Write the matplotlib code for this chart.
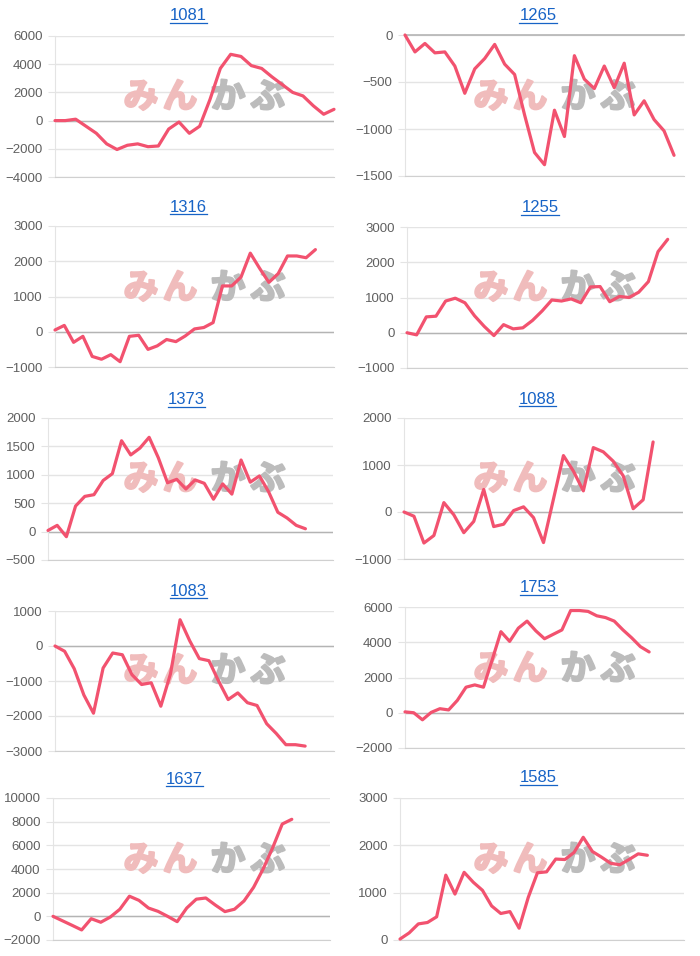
import matplotlib
matplotlib.use('Agg')
import matplotlib.pyplot as plt
from matplotlib.lines import Line2D
from matplotlib.ticker import MultipleLocator
import matplotlib.patheffects as pe

# ---------------- data ----------------
codes = ['1081', '1265', '1316', '1255', '1373', '1088', '1083', '1753', '1637', '1585']

v1081 = [0, 0, 100, -400, -900, -1650, -2050, -1750, -1650, -1850, -1800, -600, -100, -900,
         -400, 1500, 3700, 4700, 4550, 3900, 3700, 3100, 2550, 2000, 1750, 1050, 450, 800]
v1265 = [0, -180, -90, -190, -180, -330, -620, -360, -250, -100, -310, -420, -850, -1250,
         -1380, -800, -1080, -220, -470, -570, -330, -560, -300, -850, -700, -900, -1020, -1280]
v1316 = [50, 180, -300, -130, -700, -780, -650, -850, -130, -100, -500, -400, -220, -280,
         -120, 80, 120, 260, 1300, 1300, 1550, 2230, 1800, 1400, 1650, 2150, 2150, 2100, 2330]
v1255 = [0, -60, 450, 470, 900, 980, 850, 480, 180, -80, 230, 110, 140, 350, 620, 930,
         900, 960, 850, 1300, 1310, 880, 1030, 1000, 1150, 1450, 2300, 2650]
v1373 = [20, 110, -90, 450, 620, 650, 900, 1020, 1600, 1350, 1470, 1660, 1300, 860, 920,
         750, 910, 850, 570, 840, 660, 1260, 870, 980, 700, 340, 240, 110, 50]
v1088 = [0, -90, -660, -500, 200, -60, -440, -200, 480, -310, -260, 30, 110, -120, -650,
         275, 1200, 870, 450, 1370, 1280, 1080, 770, 70, 260, 1490]
v1083 = [0, -150, -650, -1400, -1920, -630, -200, -250, -820, -1100, -1050, -1720, -800,
         750, 150, -360, -420, -1000, -1530, -1340, -1620, -1700, -2220, -2500, -2820,
         -2820, -2860]
v1753 = [50, 0, -400, 20, 230, 160, 700, 1450, 1580, 1450, 3000, 4600, 4050, 4800, 5200,
         4650, 4200, 4450, 4700, 5800, 5800, 5750, 5500, 5400, 5200, 4700, 4250, 3750, 3450]
v1637 = [0, -380, -760, -1150, -200, -500, -60, 600, 1700, 1350, 700, 420, 0, -450, 700,
         1450, 1550, 950, 400, 600, 1300, 2450, 4000, 5800, 7800, 8200]
v1585 = [20, 150, 340, 370, 490, 1370, 970, 1430, 1220, 1050, 720, 560, 600, 250, 900,
         1420, 1440, 1710, 1700, 1850, 2170, 1870, 1750, 1620, 1590, 1700, 1820, 1790]

series = [v1081, v1265, v1316, v1255, v1373, v1088, v1083, v1753, v1637, v1585]
# number of category slots on each x axis
n_labels = [28, 29, 31, 30, 32, 29, 30, 33, 30, 32]

# ---------------- layout ----------------
W, H = 700, 956
plt.rcParams['font.family'] = ['Liberation Sans', 'Noto Sans CJK JP', 'DejaVu Sans']
fig = plt.figure(figsize=(W / 100, H / 100), dpi=100)
fig.patch.set_facecolor('white')


def rect(l, t, r, b):
    return [l / W, 1 - b / H, (r - l) / W, (b - t) / H]


yscales = [(-4000, 6000, 2000), (-1500, 0, 500), (-1000, 3000, 1000), (-1000, 3000, 1000),
           (-500, 2000, 500), (-1000, 2000, 1000), (-3000, 1000, 1000), (-2000, 6000, 2000),
           (-2000, 10000, 2000), (0, 3000, 1000)]
boxes = [(55, 36, 334, 177), (405, 35, 684, 176),
         (55, 226, 334, 367), (407, 227, 687, 368),
         (48, 418, 333, 560), (404, 418, 683, 559),
         (55, 611, 334, 751), (405, 607, 684, 748),
         (53, 798, 330, 940), (400, 798, 684, 940)]
title_xy = [(188, 16), (538, 16), (188, 207), (540, 208), (186, 400), (537, 399),
            (188, 591), (538, 588), (184, 779), (538, 778)]
wm_y = [97, 97, 288, 288, 479, 479, 671, 669, 860, 860]

LINE = '#f2526f'
GRID = '#e4e4e4'
PINK = '#f0bcbc'
GRAY = '#bcbcbc'
titles = []
for i, code in enumerate(codes):
    lo, hi, step = yscales[i]
    ax = fig.add_axes(rect(*boxes[i]))
    ax.set_facecolor('none')
    vals = series[i]
    ax.plot(range(len(vals)), vals, color=LINE, lw=2.3, solid_joinstyle='round',
            solid_capstyle='round', zorder=4, clip_on=False)
    ax.set_xlim(0, n_labels[i] - 1)
    ax.set_ylim(lo, hi)
    ax.yaxis.set_major_locator(MultipleLocator(step))
    ax.set_xticks([])
    ax.grid(axis='y', color=GRID, lw=1)
    ax.set_axisbelow(True)
    for sp in ['top', 'right']:
        ax.spines[sp].set_visible(False)
    ax.spines['left'].set_color(GRID)
    ax.spines['bottom'].set_color('#d0d0d0')
    if lo < 0 < hi:
        ax.axhline(0, color='#b4b4b4', lw=1, zorder=2)
    elif hi == 0:
        ax.axhline(0, color='#b4b4b4', lw=1.2, zorder=2, clip_on=False)
    ax.tick_params(axis='y', length=5, color=GRID, labelsize=9.5, labelcolor='#606060', pad=4)

    # watermark
    cx = 0 if i % 2 == 0 else 350
    y = 1 - wm_y[i] / H
    for ch, dx, col in [('み', 141, PINK), ('ん', 180, PINK),
                        ('か', 228, GRAY), ('ぶ', 268, GRAY)]:
        ax.text((cx + dx) / W, y, ch, transform=fig.transFigure, ha='center', va='center',
                fontsize=25, fontweight='bold', color=col, family=['Noto Sans CJK JP'],
                zorder=1, clip_on=False,
                path_effects=[pe.withStroke(linewidth=1.6, foreground=col)])

    tx, ty = title_xy[i]
    t = fig.text(tx / W, 1 - ty / H, code, ha='center', va='center', fontsize=12,
                 color='#1763c6')
    titles.append(t)

fig.canvas.draw()
r = fig.canvas.get_renderer()
for t in titles:
    bb = t.get_window_extent(renderer=r)
    yline = bb.y0 + 1
    fig.add_artist(Line2D([bb.x0 / W, bb.x1 / W], [yline / H, yline / H],
                          transform=fig.transFigure, color='#1763c6', lw=0.9))

fig.savefig('out.png', dpi=100, facecolor='white')
